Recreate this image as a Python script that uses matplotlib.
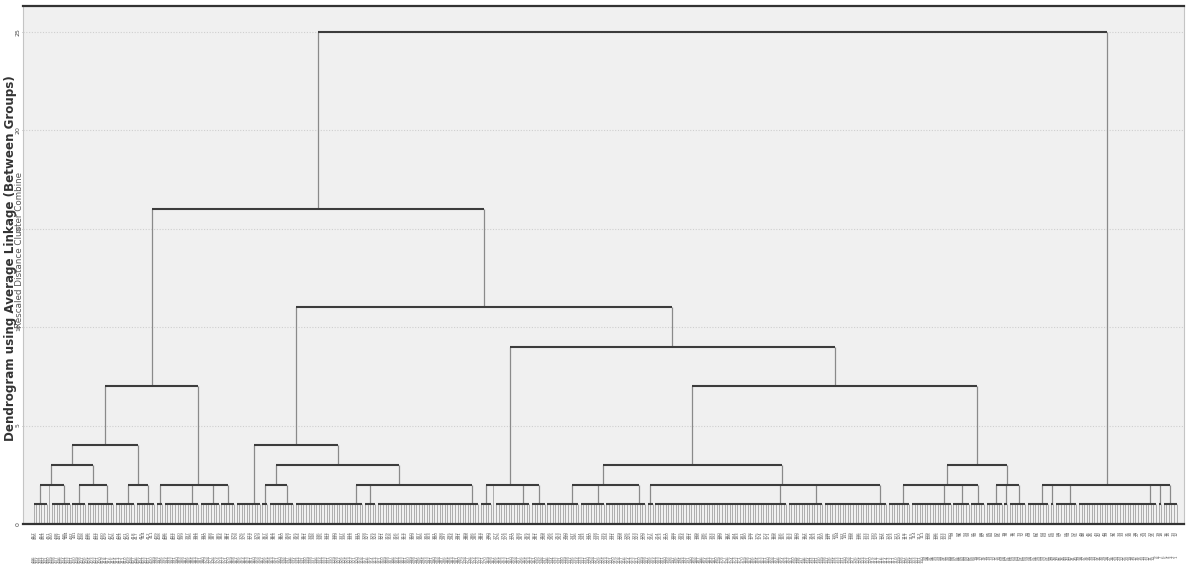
import matplotlib
matplotlib.use('Agg')
import matplotlib.pyplot as plt
from matplotlib.collections import LineCollection
import numpy as np

# ---------------- data ----------------
# merge heights on the rescaled distance axis
H_ROOT = 25
H_BIG_LEFT = 16
H_MID = 11
H_RIGHT = 9
H_SEVEN = 7
H_FOUR = 4
H_THREE = 3
H_TWO = 2
H_ONE = 1

# sizes of the leaf groups (cases joined at height 1) in each cluster formed at height 2
grp_a = [6, 1, 8]
grp_b = [6, 11]
grp_c = [8, 8]
grp_d = [3, 14, 8, 6]
grp_solo = [10]            # leaf group joining directly at height 4
grp_e = [3, 10]
grp_f = [27, 5, 40]
grp_g = [5, 1, 14, 6]
grp_h = [13, 10, 16]
grp_i = [3, 52, 14, 25]
grp_j = [9, 16, 7, 6]
grp_k = [7, 2, 7]
grp_l = [9, 2, 9, 31, 2, 6]

y_ticks = [0, 5, 10, 15, 20, 25]
y_tick_labels = ['0', '5', '10', '15', '20', '25']

title_text = 'Dendrogram using Average Linkage (Between Groups)'
subtitle_text = 'Rescaled Distance Cluster Combine'


# ---------------- tree assembly ----------------
def node(h, *children):
    return ('node', h, list(children))


def leaves(n):
    return ('leaf', n)


def cl2(sizes):
    return node(H_TWO, *[leaves(n) for n in sizes])


tree = node(H_ROOT,
            node(H_BIG_LEFT,
                 node(H_SEVEN,
                      node(H_FOUR,
                           node(H_THREE, cl2(grp_a), cl2(grp_b)),
                           cl2(grp_c)),
                      cl2(grp_d)),
                 node(H_MID,
                      node(H_FOUR, leaves(grp_solo[0]),
                           node(H_THREE, cl2(grp_e), cl2(grp_f))),
                      node(H_RIGHT,
                           cl2(grp_g),
                           node(H_SEVEN,
                                node(H_THREE, cl2(grp_h), cl2(grp_i)),
                                node(H_THREE, cl2(grp_j), cl2(grp_k)))))),
            cl2(grp_l))

seg_h, seg_v, seg_leaf = [], [], []
counter = [0]


def draw(t):
    if t[0] == 'leaf':
        n = t[1]
        start = counter[0]
        counter[0] += n
        if n == 1:
            return float(start), 0.0, True
        for x in range(start, start + n):
            seg_leaf.append([(x, 0), (x, H_ONE)])
        seg_h.append([(start, H_ONE), (start + n - 1, H_ONE)])
        idx = max((n - 1) / 2.0, n - 3.4)
        return start + idx, float(H_ONE), False
    _, h, ch = t
    pts = [draw(c) for c in ch]
    for x, y, single in pts:
        (seg_leaf if single else seg_v).append([(x, y), (x, h)])
    xs = [p[0] for p in pts]
    seg_h.append([(min(xs), h), (max(xs), h)])
    return float(np.mean(xs)), float(h), False


draw(tree)
n_leaves = counter[0]

# ---------------- figure ----------------
W, H = 1188, 583
fig = plt.figure(figsize=(W / 100, H / 100), dpi=100)
ax_l, ax_r, ax_t, ax_b = 23, 1184, 6, 524
ax = fig.add_axes([ax_l / W, 1 - ax_b / H, (ax_r - ax_l) / W, (ax_b - ax_t) / H])
ax.set_facecolor('#f0f0f0')

ax.set_xlim(-4.2, n_leaves - 1 + 2.9)
ax.set_ylim(0, 26.3)

for yv in y_ticks[1:]:
    ax.axhline(yv, color='#cfcfcf', lw=0.8, ls=(0, (1, 1.5)), zorder=1)

ax.add_collection(LineCollection(seg_leaf, colors='#a2a2a2', linewidths=0.6, zorder=2))
ax.add_collection(LineCollection(seg_v, colors='#8a8a8a', linewidths=0.9, zorder=3))
ax.add_collection(LineCollection(seg_h, colors='#3c3c3c', linewidths=1.5, zorder=4))

ax.set_xticks([])
ax.set_yticks(y_ticks)
ax.set_yticklabels(y_tick_labels, rotation=90, va='center', fontsize=4.5, color='#444444')
ax.tick_params(axis='y', length=1, width=0.5, pad=0.5, colors='#888888', labelcolor='#444444')

for s in ['top', 'bottom']:
    ax.spines[s].set_color('#333333')
    ax.spines[s].set_linewidth(1.6)
for s in ['left', 'right']:
    ax.spines[s].set_color('#c4c4c4')
    ax.spines[s].set_linewidth(0.8)

# case labels under the leaves (too small to read in the reference)
case_numbers = list(range(n_leaves, 0, -1))
trans = ax.get_xaxis_transform()
for i in range(n_leaves):
    if i % 3 != 2:
        ax.text(i, -0.0135, str(457 - i), rotation=90, ha='center', va='top',
                fontsize=3.0, color='#555555', transform=trans, clip_on=False)
    ax.text(i, -0.060, str(case_numbers[i]), rotation=90, ha='center', va='top',
            fontsize=3.0, color='#666666', transform=trans, clip_on=False)

fig.text(11 / W, 1 - 258 / H, title_text, rotation=90, ha='center', va='center',
         fontsize=8.6, fontweight='bold', color='#333333')
fig.text(19.5 / W, 1 - 250 / H, subtitle_text, rotation=90, ha='center', va='center',
         fontsize=6.3, color='#555555')

fig.savefig('out.png', dpi=100, facecolor='white')
